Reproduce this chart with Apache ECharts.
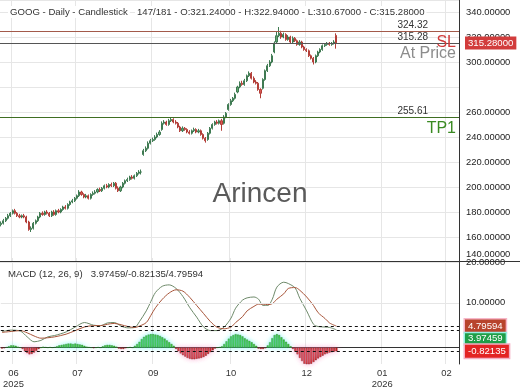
<!DOCTYPE html>
<html><head><meta charset="utf-8">
<script src="https://cdn.jsdelivr.net/npm/echarts@6/dist/echarts.min.js"></script>
<style>html,body{margin:0;padding:0;background:#fff}#c{width:520px;height:390px}</style>
</head><body><div id="c"></div>
<script>
// ---------- DATA ----------
const slotCount = 200;
const openP = [170,171,173,175,177,179,181,179,177,176,177,176,172,166,167,171,173,176,179,178,
180,179,177,180,178,181,180,182,184,183,186,188,189,191,193,196,194,192,193,191,
194,195,196,198,197,199,201,200,202,201,203,199,197,200,203,205,206,208,207,209,
211,212,226,229,231,235,237,238,240,242,246,251,252,250,253,254,252,251,248,245,
247,246,244,243,245,246,244,245,242,239,238,243,247,250,252,251,253,251,256,262,
266,269,271,276,280,283,282,285,289,291,287,284,283,278,279,286,293,297,300,308,
316,321,323,320,322,318,320,316,319,317,314,316,312,310,309,305,303,300,305,308,
310,313,314,315,314,315,321.24];
const closeP = [171,173,175,177,179,181,179,177,176,177,176,172,166,167,171,173,176,179,178,180,
179,177,180,178,181,180,182,184,183,186,188,189,191,193,196,194,192,193,191,194,
195,196,198,197,199,201,200,202,201,203,199,197,200,203,205,206,208,207,209,211,
212,212,229,231,235,237,238,240,242,244,251,252,250,253,254,252,251,248,245,247,
246,244,243,245,246,244,245,242,239,237,243,247,250,252,251,253,250,256,259,266,
269,271,274,280,283,282,285,289,291,287,284,283,278,275,286,293,297,300,305,315,
321,323,320,322,318,320,316,319,317,314,316,312,310,309,305,303,300,305,308,310,
313,314,315,314,315,316,315.28];
const highP = [172.5,174.5,176,178.5,180,182,182.5,180,178.5,178,178.5,177,173,168.5,172,174,177,180,180.5,181,
181.5,180,181,181.5,182,182.5,183,185,185.5,187,189,190.5,192,194,197.5,197,195,194.5,194,195,
196.5,197.5,199,199.5,200,202,202.5,203,203.5,204,204,200.5,201,204,206,207.5,209,209.5,210,212,
213.5,214,230.5,232.5,236.5,238.5,239.5,241.5,243.5,245.5,252.5,253.5,253,254.5,255.5,255,253.5,252,249,248.5,
248,247,245.5,246,247.5,247,246.5,246,243,240,244,248,251,253,253.5,254,254.5,257.5,260,267,
270.5,272,275.5,281,284.5,285,286.5,290,292.5,292,288.5,285.5,284,279,287,294,298.5,301.5,306.5,316.5,
324,328,325,323.5,323,321.5,321,320.5,320,318,317.5,317,313,311,310,306,304,306,309,311,
314,315,316,316,316,317.5,322.94];
const lowP = [168.5,170,172,174,176,178,178,176,175,175,175,171,165,164,166,170,172,175,177,177,
178,176,176,177,177,179,179,181,182,182,185,187,188,190,192,193,191,191,190,190,
193,194,195,196,196,198,199,199,200,200,198,196,196,199,202,204,205,206,206,208,
210,210,225,228,230,234,236,237,239,241,245,250,249,249,252,251,250,247,244,244,
245,243,242,242,244,243,243,241,238,235.5,237,242,246,249,250,250,245,250,255,261,
265,268,270,275,279,281,281,284,288,286,283,282,277,271,278,285,292,296,299,307,
315,320,318.5,319,317,317,315,315,316,313,313,311,309,308,304,302,298,299,304,307,
309,312,313,313,313,314,310.67];
// MACD (12, 26, 9)
const macdIdx = [0,4,8,11,14,17,20,23,28,32,36,40,43,46,49,52,55,58,60,63,65,67,70,73,76,79,82,85,88,91,94,97,100,102,105,107,110,112,114,116,118,120,123,125,128,130,133,136,138,141,143,146];
const macdLine = [3.6,3.9,3.7,2.4,1.3,1.6,2.4,2.7,3.5,4.6,5.6,5.0,4.9,5.5,5.6,4.8,4.4,4.5,5.8,8.2,10.3,12.3,13.7,14.0,13.2,11.4,8.9,6.8,4.6,3.8,3.8,4.6,6.6,8.8,10.6,11.1,11.3,10.8,9.4,9.4,10.8,13.5,14.6,14.3,13.3,11.0,8.2,5.2,4.7,4.6,4.5,3.97459];
const signalLine = [3.4,3.6,3.8,3.3,2.6,2.1,2.2,2.4,3.0,3.8,4.6,4.9,4.9,5.2,5.4,5.1,4.7,4.5,4.8,5.6,7.2,8.9,10.8,12.2,12.9,12.6,11.2,9.4,7.6,5.8,4.5,4.2,4.6,5.6,6.9,8.2,9.2,9.7,9.7,9.6,9.8,10.8,12.0,13.2,13.4,12.8,11.3,9.4,7.8,6.5,5.5,4.79594];
const histogram = [-0.2,-0.1,
0.1,0.3,0.5,0.5,0.4,0.2,0.0,
-0.3,-0.8,-1.2,-1.5,-1.4,-1.1,-0.7,-0.3,
0.0,0.2,0.1,
0.0,0.1,0.0,0.1,
0.3,0.5,0.6,0.7,0.8,0.9,0.9,0.8,0.9,0.8,0.7,0.6,0.4,0.2,0.1,
0.0,-0.1,0.0,0.1,0.0,
0.3,0.5,0.6,0.6,0.5,0.4,0.2,
-0.2,-0.3,-0.3,-0.1,
0.0,0.1,0.0,
0.4,0.8,1.3,1.9,2.4,2.7,2.9,3.0,3.0,2.9,2.8,2.6,2.3,2.0,1.6,1.2,0.8,0.4,
-0.3,-0.8,-1.3,-1.7,-2.0,-2.3,-2.5,-2.6,-2.6,-2.5,-2.4,-2.3,-2.1,-1.8,-1.4,-1.0,-0.6,-0.2,
0.0,0.1,0.3,
0.8,1.4,2.0,2.5,2.8,3.0,2.9,2.8,2.5,2.1,1.8,1.5,1.2,0.8,0.4,
-0.2,-0.3,-0.3,-0.1,
0.5,1.2,2.1,2.8,3.0,2.8,2.3,1.8,1.3,0.8,0.3,
-0.3,-0.9,-1.5,-2.3,-3.0,-3.6,-3.8,-3.8,-3.6,-3.2,-2.8,-2.4,-2.1,-1.8,-1.5,-1.3,-1.1,-1.0,-0.9,-0.82135];
const lastMacd = 3.97459, lastSignal = 4.79594, lastHist = -0.82135;
// price levels
const levelValues = [324.32, 315.28, 255.61];
const levelNames = ['SL', 'At Price', 'TP1'];
const lastClose = 315.28;
// x tick labels (slot index -> text)
const xTickIdx = [5, 33, 66, 100, 133, 166, 194];
const xTickText = ['06\n2025', '07', '09', '10', '12', '01\n2026', '02'];
const macdTicks = [10, 20];
const headerTitle = 'GOOG - Daily - Candlestick';
const headerOHLC = '147/181 - O:321.24000 - H:322.94000 - L:310.67000 - C:315.28000';

// ---------- CHART ----------
const FONT = 'Liberation Sans';
const cats = Array.from({length: slotCount}, (_, i) => String(i));
const tickMap = {}; xTickIdx.forEach((k, j) => tickMap[k] = xTickText[j]);
const candles = openP.map((o, i) => [o, closeP[i], lowP[i], highP[i]]);
const levelLine = ['#a35a4a', '#555555', '#3f6e22'];
const levelText = ['#d03a3a', '#8c8c8c', '#3a8a22'];
const HIDE = {color: 'rgba(0,0,0,0)', width: 0};

const priceMarks = [];
levelValues.forEach((v, k) => {
  priceMarks.push({yAxis: v, lineStyle: {color: levelLine[k], width: 1, type: 'solid'},
    label: {show: true, position: 'insideEndTop', formatter: v.toFixed(2), color: '#333', fontSize: 10, fontFamily: FONT, padding: [0, 30, 0, 0], distance: 1}});
  priceMarks.push({yAxis: v, lineStyle: HIDE,
    label: {show: true, position: 'insideEndBottom', formatter: levelNames[k], color: levelText[k], fontSize: 16, fontFamily: FONT, distance: 3}});
});
priceMarks.push({yAxis: lastClose, lineStyle: HIDE,
  label: {show: true, position: 'end', formatter: lastClose.toFixed(5), color: '#fff', backgroundColor: '#d23c3c', padding: [2, 3, 1, 3], fontSize: 9.6, fontFamily: FONT, distance: 6}});

const macdMarks = [
  {yAxis: macdTicks[0], lineStyle: {color: '#e6e6e6', type: 'solid', width: 1}, label: {show: false}},
  {yAxis: lastSignal, label: {show: true, position: 'end', formatter: lastSignal.toFixed(5), color: '#fff', backgroundColor: '#b8442c', borderColor: '#f7b6c8', borderWidth: 1.5, padding: [2, 3, 1, 3], fontSize: 9.6, fontFamily: FONT, distance: 6}},
  {yAxis: lastMacd, label: {show: true, position: 'end', formatter: lastMacd.toFixed(5), color: '#fff', backgroundColor: '#1f9e48', borderColor: '#98f0e4', borderWidth: 1.5, padding: [1, 3, 0, 3], fontSize: 9.6, fontFamily: FONT, distance: 6, offset: [0, 9]}},
  {yAxis: lastHist, label: {show: true, position: 'end', formatter: lastHist.toFixed(5), color: '#fff', backgroundColor: '#e32424', borderColor: '#f3b0c4', borderWidth: 1.5, padding: [2, 3, 1, 3], fontSize: 9.6, fontFamily: FONT, distance: 6}}
];

const chart = echarts.init(document.getElementById('c'), null, {renderer: 'canvas'});
chart.setOption({
  animation: false,
  backgroundColor: '#ffffff',
  textStyle: {fontFamily: FONT},
  grid: [
    {left: 0, top: 0, width: 459, height: 262},
    {left: 0, top: 258, width: 459, height: 110}
  ],
  xAxis: [
    {type: 'category', gridIndex: 0, data: cats, boundaryGap: true,
      axisLine: {show: false}, axisTick: {show: false},
      axisLabel: {show: false, interval: (i) => tickMap[i] !== undefined},
      splitLine: {show: true, interval: (i) => tickMap[i] !== undefined, lineStyle: {color: '#e6e6e6'}}},
    {type: 'category', gridIndex: 1, data: cats, boundaryGap: true,
      axisLine: {show: true, lineStyle: {color: '#333', width: 1}}, axisTick: {show: false},
      axisLabel: {show: true, interval: (i) => tickMap[i] !== undefined, formatter: (v, i) => tickMap[i] || '',
        fontSize: 9.4, color: '#333', margin: 4, lineHeight: 11, fontFamily: FONT},
      splitLine: {show: true, interval: (i) => tickMap[i] !== undefined, lineStyle: {color: '#e6e6e6'}}}
  ],
  yAxis: [
    {type: 'value', gridIndex: 0, position: 'right', min: 140, max: 349.6, interval: 20,
      axisLine: {show: true, lineStyle: {color: '#333'}}, axisTick: {show: false},
      axisLabel: {fontSize: 9.4, color: '#222', margin: 7, fontFamily: FONT, showMaxLabel: false,
        verticalAlignMinLabel: 'bottom',
        rich: {lo: {fontSize: 9.4, color: '#222', fontFamily: FONT, padding: [0, 0, 3, 0]}},
        formatter: (v) => (v === 280 ? '' : v === 140 ? '{lo|' + v.toFixed(5) + '}' : v.toFixed(5))},
      splitLine: {show: true, lineStyle: {color: '#e6e6e6'}}},
    {type: 'value', gridIndex: 1, position: 'right', min: -3.66, max: 20,
      axisLine: {show: true, lineStyle: {color: '#333'}}, axisTick: {show: false},
      axisLabel: {fontSize: 9.4, color: '#222', margin: 7, fontFamily: FONT, customValues: macdTicks,
        verticalAlignMaxLabel: 'top', formatter: (v) => v.toFixed(5)},
      splitLine: {show: false}}
  ],
  series: [
    {type: 'candlestick', xAxisIndex: 0, yAxisIndex: 0, data: candles, barWidth: 1.6,
      itemStyle: {color: '#62a872', color0: '#dc5a55', borderColor: '#3f7a52', borderColor0: '#b33e38', borderWidth: 1},
      markLine: {silent: true, symbol: 'none', animation: false, data: priceMarks}},
    {type: 'bar', xAxisIndex: 1, yAxisIndex: 1, barWidth: '85%',
      data: histogram.map(v => ({value: v, itemStyle: v >= 0
        ? {color: '#3ccc2c', borderColor: '#1e7a18', borderWidth: 0.4, shadowColor: 'rgba(110,240,240,0.8)', shadowBlur: 5}
        : {color: '#e01c1c', borderColor: '#6a1010', borderWidth: 0.4, shadowColor: 'rgba(250,170,210,0.9)', shadowBlur: 5}})),
      markLine: {silent: true, symbol: 'none', animation: false, lineStyle: {color: '#111', type: [3, 3], width: 1}, data: macdMarks}},
    {type: 'line', xAxisIndex: 1, yAxisIndex: 1, data: macdIdx.map((x, k) => [x, macdLine[k]]),
      smooth: 0.3, symbol: 'none', lineStyle: {color: '#6e8a6a', width: 1}},
    {type: 'line', xAxisIndex: 1, yAxisIndex: 1, data: macdIdx.map((x, k) => [x, signalLine[k]]),
      smooth: 0.3, symbol: 'none', lineStyle: {color: '#a8553a', width: 1}}
  ],
  graphic: [
    {type: 'line', shape: {x1: 0, y1: 261.5, x2: 520, y2: 261.5}, style: {stroke: '#333', lineWidth: 1}, z: 100},
    {type: 'text', x: 8, y: 12, z: 100, style: {text: headerTitle, fontSize: 9.6, fontFamily: FONT, fill: '#333', backgroundColor: '#fff', padding: [1, 2], verticalAlign: 'middle'}},
    {type: 'text', x: 135, y: 12, z: 100, style: {text: headerOHLC, fontSize: 9.6, fontFamily: FONT, fill: '#333', backgroundColor: '#fff', padding: [1, 2], verticalAlign: 'middle'}},
    {type: 'text', x: 8, y: 274, z: 100, style: {text: 'MACD (12, 26, 9)   ' + lastMacd.toFixed(5) + '/' + lastHist.toFixed(5) + '/' + lastSignal.toFixed(5), fontSize: 9.6, fontFamily: FONT, fill: '#333', verticalAlign: 'middle'}},
    {type: 'text', x: 260, y: 194, z: 100, style: {text: 'Arincen', fontSize: 28, fontFamily: FONT, fill: '#5a5a5a', align: 'center', verticalAlign: 'middle'}}
  ]
});
</script>
</body></html>
